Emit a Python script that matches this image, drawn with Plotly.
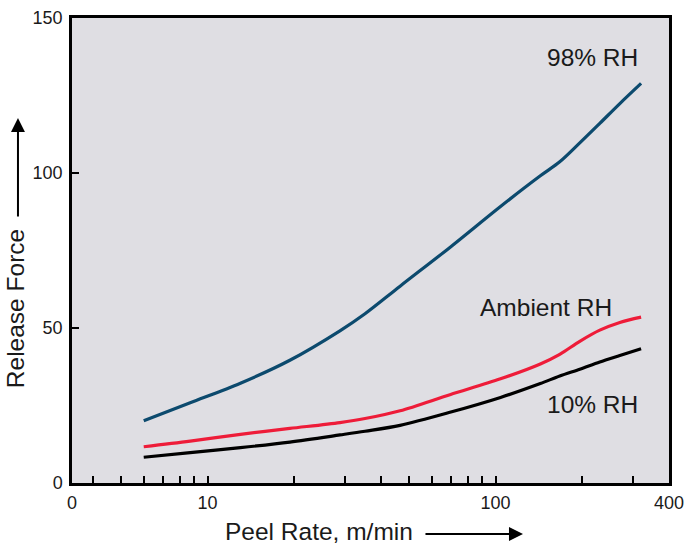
import math
import plotly.graph_objects as go

# ---- data ----
peel_rate = [6.0, 8.7, 13.0, 19.3, 28.8, 35.2, 46.6, 69.4, 104, 143, 167, 196, 230, 270, 320]
rh98 = [20.1, 25.9, 32.2, 39.6, 49.1, 54.6, 63.5, 76.0, 89.2, 99.1, 103.6, 109.7, 116.0, 122.4, 128.9]
rh_ambient = [11.7, 13.5, 15.7, 17.6, 19.5, 20.8, 23.3, 28.5, 33.6, 38.4, 41.5, 45.7, 49.3, 51.8, 53.5]
rh10 = [8.3, 9.8, 11.4, 13.2, 15.5, 16.7, 18.6, 22.8, 27.6, 32.1, 34.5, 36.7, 39.0, 41.1, 43.3]

series_names = ["98% RH", "Ambient RH", "10% RH"]
series_colors = ["#0c4a6e", "#ee1c39", "#000000"]

x_min_log = 0.5291
x_max = 400
x_major_vals = [10 ** x_min_log, 10, 100, 400]
x_major_text = ["0", "10", "100", "400"]
x_minor_vals = [4, 5, 6, 7, 8, 9, 20, 30, 40, 50, 60, 70, 80, 90, 200, 300]
y_ticks = [0, 50, 100, 150]

FONT = "Liberation Sans, Arial, Helvetica, sans-serif"
TXT = "#1a1a1a"
LABEL_SIZE = 24.5

fig = go.Figure()
for name, vals, col in zip(series_names, [rh98, rh_ambient, rh10], series_colors):
    fig.add_trace(go.Scatter(x=peel_rate, y=vals, mode="lines", name=name,
                             line=dict(color=col, width=3.2, shape="spline", smoothing=0.9)))

tickvals = x_major_vals + x_minor_vals
ticktext = x_major_text + [""] * len(x_minor_vals)

fig.update_layout(
    width=686, height=544,
    margin=dict(l=72, r=17, t=18, b=61, autoexpand=False),
    paper_bgcolor="white",
    plot_bgcolor="#dfdee3",
    showlegend=False,
    font=dict(family=FONT, color=TXT, size=18),
    xaxis=dict(type="log", range=[x_min_log, math.log10(x_max)], automargin=False,
               tickmode="array", tickvals=tickvals, ticktext=ticktext,
               ticks="inside", ticklen=7, tickwidth=2, tickcolor="black",
               showline=True, linecolor="black", linewidth=2.5, mirror=True,
               showgrid=False, zeroline=False, ticklabelstandoff=2,
               tickfont=dict(size=18, family=FONT, color=TXT)),
    yaxis=dict(range=[0, 150], tickmode="array", tickvals=y_ticks, automargin=False,
               ticks="inside", ticklen=7, tickwidth=2, tickcolor="black",
               showline=True, linecolor="black", linewidth=2.5, mirror=True,
               showgrid=False, zeroline=False, ticklabelstandoff=3,
               tickfont=dict(size=18, family=FONT, color=TXT)),
)

# curve labels
fig.add_annotation(x=2.5013, y=137.4, xref="x", yref="y", text="98% RH", showarrow=False,
                   xanchor="right", yanchor="middle", font=dict(size=LABEL_SIZE, family=FONT, color=TXT))
fig.add_annotation(x=2.175, y=56.5, xref="x", yref="y", text="Ambient RH", showarrow=False,
                   xanchor="center", yanchor="middle", font=dict(size=LABEL_SIZE, family=FONT, color=TXT))
fig.add_annotation(x=2.5013, y=25.2, xref="x", yref="y", text="10% RH", showarrow=False,
                   xanchor="right", yanchor="middle", font=dict(size=LABEL_SIZE, family=FONT, color=TXT))

# axis titles with arrows
fig.add_annotation(x=-0.0955, y=0.376, xref="paper", yref="paper", text="Release Force",
                   textangle=-90, showarrow=False, xanchor="center", yanchor="middle",
                   font=dict(size=LABEL_SIZE, family=FONT, color=TXT))
fig.add_annotation(x=-0.0905, y=0.785, xref="paper", yref="paper", text="", showarrow=True,
                   ax=0, ay=100, arrowhead=2, arrowsize=1.4, arrowwidth=2, arrowcolor="black")
fig.add_annotation(x=0.413, y=-0.105, xref="paper", yref="paper", text="Peel Rate, m/min",
                   showarrow=False, xanchor="center", yanchor="middle",
                   font=dict(size=LABEL_SIZE, family=FONT, color=TXT))
fig.add_annotation(x=0.7554, y=-0.1097, xref="paper", yref="paper", text="", showarrow=True,
                   ax=-99, ay=0, arrowhead=2, arrowsize=1.4, arrowwidth=2, arrowcolor="black")

fig.write_html("out.html")
